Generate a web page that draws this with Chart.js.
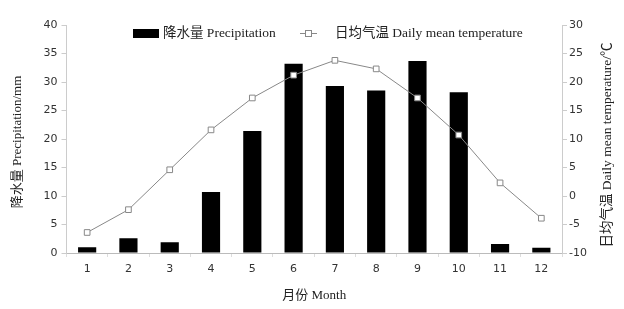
<!DOCTYPE html>
<html>
<head>
<meta charset="utf-8">
<script src="https://cdn.jsdelivr.net/npm/chart.js@4"></script>
<style>
  html, body { margin: 0; padding: 0; background: #fff; }
  #wrap { width: 624px; height: 309px; }
</style>
</head>
<body>
<div id="wrap"><canvas id="myChart" width="624" height="309"></canvas></div>
<script>
const months = ['1', '2', '3', '4', '5', '6', '7', '8', '9', '10', '11', '12'];
const precipitation = [1.0, 2.6, 1.9, 10.7, 21.4, 33.2, 29.3, 28.5, 33.7, 28.2, 1.6, 0.9];
const temperature = [-6.4, -2.4, 4.6, 11.6, 17.2, 21.2, 23.8, 22.3, 17.2, 10.7, 2.3, -3.9];
const precipTicks = [0, 40, 5];
const tempTicks = [-10, 30, 5];

const serif = '"Liberation Serif", "Noto Sans CJK SC", serif';
const tickFont = { family: '"DejaVu Sans", sans-serif', size: 11 };

// titles and legend drawn by hand so they sit where the original has them
const decorations = {
    id: 'decorations',
    afterDraw(chart) {
        const c = chart.ctx;
        const area = chart.chartArea;
        c.save();
        c.fillStyle = '#222';
        c.textBaseline = 'middle';
        c.font = '13px ' + serif;

        // left axis title
        c.save();
        c.translate(18, 142);
        c.rotate(-Math.PI / 2);
        c.textAlign = 'center';
        c.fillText('降水量 Precipitation/mm', 0, 0);
        c.restore();

        // right axis title (reads bottom to top like the left one)
        c.save();
        c.translate(607, 145);
        c.rotate(-Math.PI / 2);
        c.textAlign = 'center';
        c.font = '13.5px ' + serif;
        c.fillText('日均气温 Daily mean temperature/℃', 0, 0);
        c.restore();

        // x axis title
        c.textAlign = 'center';
        c.fillText('月份 Month', (area.left + area.right) / 2, 296);

        // legend
        c.font = '13.5px ' + serif;
        let x = 133, y = 33;
        c.fillStyle = '#000';
        c.fillRect(x, y - 4, 26, 9);
        c.fillStyle = '#222';
        c.textAlign = 'left';
        c.fillText(chart.data.datasets[0].label, x + 30, y);
        x = 300;
        c.strokeStyle = '#888';
        c.lineWidth = 1;
        c.beginPath();
        c.moveTo(x, y + 0.5);
        c.lineTo(x + 17, y + 0.5);
        c.stroke();
        c.fillStyle = '#fff';
        c.fillRect(x + 5, y - 3, 7, 7);
        c.strokeRect(x + 5.5, y - 2.5, 6, 6);
        c.fillStyle = '#222';
        c.fillText(chart.data.datasets[1].label, x + 35, y);
        c.restore();
    }
};

const ctx = document.getElementById('myChart').getContext('2d');
const myChart = new Chart(ctx, {
    type: 'bar',
    data: {
        labels: months,
        datasets: [{
                label: '降水量 Precipitation',
                data: precipitation,
                backgroundColor: '#000',
                borderWidth: 0,
                categoryPercentage: 1,
                barPercentage: 0.44,
                yAxisID: 'y',
                order: 1
            },
            {
                type: 'line',
                label: '日均气温 Daily mean temperature',
                data: temperature,
                borderColor: '#888',
                borderWidth: 1,
                pointStyle: 'rect',
                pointRadius: 4,
                pointBackgroundColor: '#fff',
                pointBorderColor: '#888',
                pointBorderWidth: 1,
                tension: 0,
                yAxisID: 'y1',
                order: 0
            }
        ]
    },
    options: {
        responsive: false,
        animation: false,
        layout: { padding: { top: 25, left: 0, right: 0, bottom: 0 } },
        plugins: {
            legend: { display: false },
            tooltip: { enabled: false }
        },
        scales: {
            x: {
                offset: true,
                border: { color: '#bbb' },
                grid: { offset: true, drawOnChartArea: false, tickLength: 4, color: '#ddd' },
                ticks: { font: tickFont, color: '#333', padding: 6 },
                afterFit: (s) => { s.height = 56; }
            },
            y: {
                position: 'left',
                min: precipTicks[0],
                max: precipTicks[1],
                border: { color: '#ccc' },
                grid: { drawOnChartArea: false, tickLength: 5, color: '#ccc' },
                ticks: { stepSize: precipTicks[2], font: tickFont, color: '#333', padding: 4 },
                afterFit: (s) => { s.width = 66.5; }
            },
            y1: {
                position: 'right',
                min: tempTicks[0],
                max: tempTicks[1],
                border: { color: '#ccc' },
                grid: { drawOnChartArea: false, tickLength: 5, color: '#ccc' },
                ticks: { stepSize: tempTicks[2], font: tickFont, color: '#333', padding: 2 },
                afterFit: (s) => { s.width = 62; }
            }
        }
    },
    plugins: [decorations]
});
</script>
</body>
</html>
